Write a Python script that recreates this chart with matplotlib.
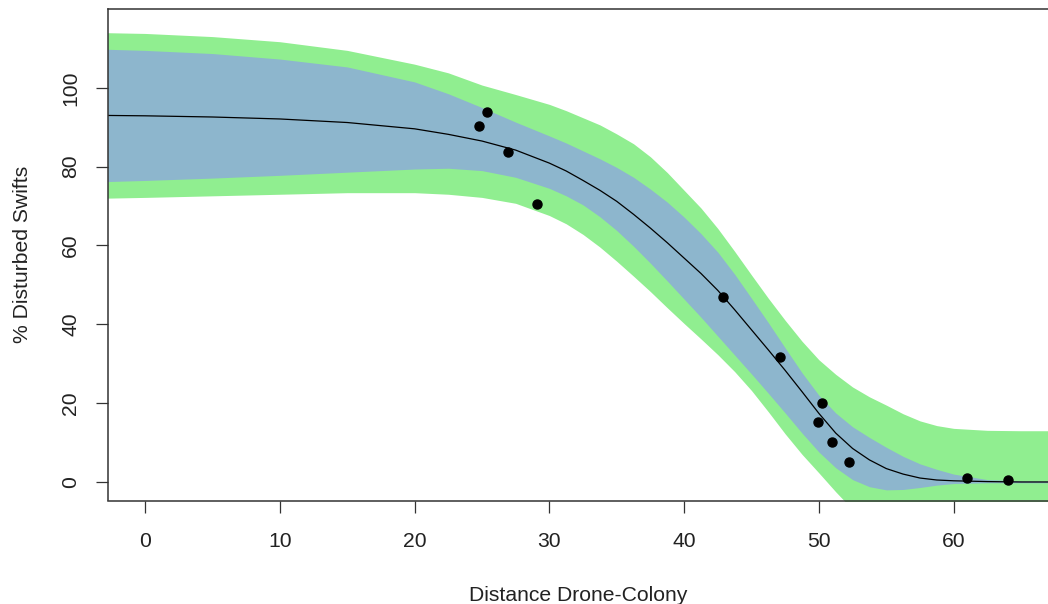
import numpy as np
import matplotlib
matplotlib.use("Agg")
import matplotlib.pyplot as plt

plt.rcParams['font.family'] = ['Liberation Sans', 'DejaVu Sans']

# observed points
dist = [24.8, 25.4, 26.9, 29.1, 42.9, 47.1, 50.2, 49.9, 51.0, 52.2, 61.0, 64.0]
disturbed = [90.4, 93.9, 83.8, 70.6, 47.0, 31.8, 20.0, 15.2, 10.2, 5.1, 1.0, 0.5]

# fitted curve and bands
grid_x = [-3, 0, 5, 10, 15, 20, 22.5, 25, 27.5, 30, 31.25, 32.5, 33.75, 35, 36.25,
          37.5, 38.75, 40, 41.25, 42.5, 43.75, 45, 46.25, 47.5, 48.75, 50, 51.25,
          52.5, 53.75, 55, 56.25, 57.5, 58.75, 60, 62.5, 65, 68]
fit = [93.0, 92.9, 92.6, 92.1, 91.2, 89.6, 88.2, 86.5, 84.2, 80.9, 78.9, 76.5, 74.0,
       71.2, 67.9, 64.4, 60.7, 56.8, 52.9, 48.6, 43.7, 38.6, 33.5, 28.3, 22.9, 17.4,
       12.4, 8.5, 5.6, 3.4, 2.0, 1.0, 0.5, 0.3, 0.1, 0.0, 0.0]
conf_hi = [109.8, 109.5, 108.7, 107.3, 105.3, 101.5, 98.5, 95.0, 91.3, 87.8, 86.0,
           84.0, 82.0, 79.8, 77.3, 74.3, 71.0, 67.2, 63.0, 58.3, 52.7, 46.6, 40.4,
           34.0, 27.7, 22.0, 17.5, 14.0, 11.3, 8.8, 6.5, 4.6, 3.2, 2.0, 0.6, 0.3, 0.2]
conf_lo = [76.2, 76.5, 77.1, 77.8, 78.6, 79.4, 79.6, 79.0, 77.3, 74.5, 72.6, 70.3,
           67.3, 63.8, 59.8, 55.5, 51.0, 46.4, 41.8, 37.0, 32.2, 27.4, 22.5, 17.5,
           12.4, 7.6, 3.6, 0.6, -1.2, -2.0, -1.9, -1.4, -0.8, -0.4, -0.2, -0.2, -0.2]
pred_hi = [114.0, 113.8, 113.0, 111.7, 109.5, 106.0, 103.8, 100.7, 98.3, 95.8, 94.2,
           92.4, 90.6, 88.3, 85.8, 82.5, 78.5, 74.0, 69.5, 64.3, 58.5, 52.5, 46.6,
           41.0, 35.7, 31.0, 27.3, 24.1, 21.6, 19.5, 17.3, 15.5, 14.3, 13.6, 13.1,
           13.0, 13.0]
pred_lo = [72.0, 72.2, 72.6, 73.0, 73.4, 73.4, 73.0, 72.2, 70.7, 67.6, 65.5, 62.8,
           59.6, 56.0, 52.2, 48.3, 44.2, 40.2, 36.3, 32.3, 28.0, 23.2, 17.8, 12.2,
           7.0, 2.3, -2.5, -7.0, -10.0, -12.0, -13.0, -13.3, -13.5, -13.5, -13.5,
           -13.5, -13.5]

x_ticks = [0, 10, 20, 30, 40, 50, 60]
y_ticks = [0, 20, 40, 60, 80, 100]

fig = plt.figure(figsize=(10.48, 6.04), dpi=100)
ax = fig.add_axes([108 / 1048, 1 - 500.5 / 604, 1 - 108 / 1048, (500.5 - 9) / 604])

ax.fill_between(grid_x, pred_lo, pred_hi, color='#90EE90', linewidth=0)
ax.fill_between(grid_x, conf_lo, conf_hi, color='#8DB6CD', linewidth=0)
ax.plot(grid_x, fit, color='black', linewidth=0.9)
ax.plot(dist, disturbed, 'o', color='black', markersize=6.5)

ax.set_xlim(-2.75, 67.0)
ax.set_ylim(-4.7, 120.0)
ax.set_xticks(x_ticks)
ax.set_yticks(y_ticks)
ax.tick_params(direction='out', length=8.6, width=0.9, color='#333333',
               labelsize=15.2, labelcolor='#222222')
ax.tick_params(axis='x', pad=14)
ax.tick_params(axis='y', pad=11.5)
for lab in ax.get_yticklabels():
    lab.set_rotation(90)
    lab.set_va('center')

for side in ['left', 'top', 'bottom']:
    ax.spines[side].set_color('#333333')
    ax.spines[side].set_linewidth(1.1)
ax.spines['right'].set_visible(False)

ax.set_xlabel('Distance Drone-Colony', fontsize=15.2, color='#222222', labelpad=25)
ax.set_ylabel('% Disturbed Swifts', fontsize=15.2, color='#222222', labelpad=21)

fig.savefig('out.png', dpi=100)
